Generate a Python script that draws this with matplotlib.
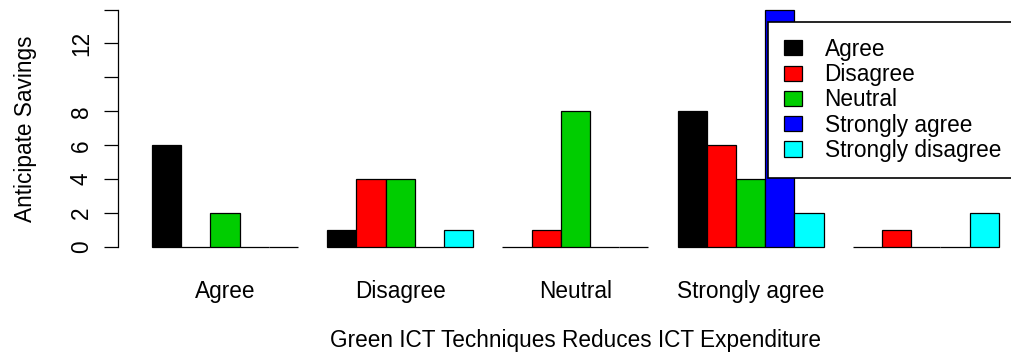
import matplotlib
matplotlib.use("Agg")
import matplotlib.pyplot as plt
import numpy as np

# grouped barplot in R style (beside=TRUE)

groups = ["Agree", "Disagree", "Neutral", "Strongly agree", "Strongly disagree"]
group_labels = ["Agree", "Disagree", "Neutral", "Strongly agree", ""]
series = ["Agree", "Disagree", "Neutral", "Strongly agree", "Strongly disagree"]

agree = [6, 1, 0, 8, 0]
disagree = [0, 4, 1, 6, 1]
neutral = [2, 4, 8, 4, 0]
strongly_agree = [0, 0, 0, 14, 0]
strongly_disagree = [0, 1, 0, 2, 2]

colors = ["black", "#FF0000", "#00CD00", "#0000FF", "#00FFFF"]

plt.rcParams['font.family'] = ['Liberation Sans', 'DejaVu Sans']
FS = 16.3

fig = plt.figure(figsize=(10.12, 3.56), dpi=100)
ax = fig.add_axes([118 / 1012, 1 - 256.5 / 356, 1 - 118 / 1012, 256.5 / 356])

data = [agree, disagree, neutral, strongly_agree, strongly_disagree]
nser = len(series)
for i, vals in enumerate(data):
    # each group = 1 unit space + 5 bars, bars of width 1
    x = np.arange(len(groups)) * (nser + 1) + 1 + i + 0.5
    ax.bar(x, vals, width=1.0, color=colors[i], edgecolor="black",
           linewidth=0.9, label=series[i])

centers = np.arange(len(groups)) * (nser + 1) + 1 + nser / 2
ax.set_xticks(centers)
ax.set_xticklabels(group_labels, fontsize=FS)
ax.tick_params(axis='x', length=0, pad=17)

ax.set_yticks(range(0, 15, 2))
ax.set_yticklabels(["0", "2", "4", "6", "8", "", "12", ""], rotation=90,
                   va="center", fontsize=FS)
ax.tick_params(axis='y', length=10, width=0.9, pad=8)

ax.set_xlim((118 - 122.8) / 29.2, (1012 - 122.8) / 29.2)
ax.set_ylim(-0.56, 14.56)

for s in ['top', 'right', 'bottom']:
    ax.spines[s].set_visible(False)
ax.spines['left'].set_bounds(0, 14)
ax.spines['left'].set_linewidth(0.9)

ax.set_ylabel("Anticipate Savings", fontsize=FS, labelpad=24)
fig.text(575 / 1012, 1 - 341 / 356, "Green ICT Techniques Reduces ICT Expenditure",
         ha="center", va="center", fontsize=FS)

leg = ax.legend(loc="upper left", bbox_to_anchor=(768 / 1012, 1 - 22 / 356),
                bbox_transform=fig.transFigure, fontsize=FS, fancybox=False,
                framealpha=1, edgecolor="black", handlelength=0.8,
                handleheight=0.65, handletextpad=1.0, labelspacing=0.1,
                borderpad=0.7, borderaxespad=0)
leg.get_frame().set_linewidth(1.2)

fig.savefig("out.png", dpi=100)
